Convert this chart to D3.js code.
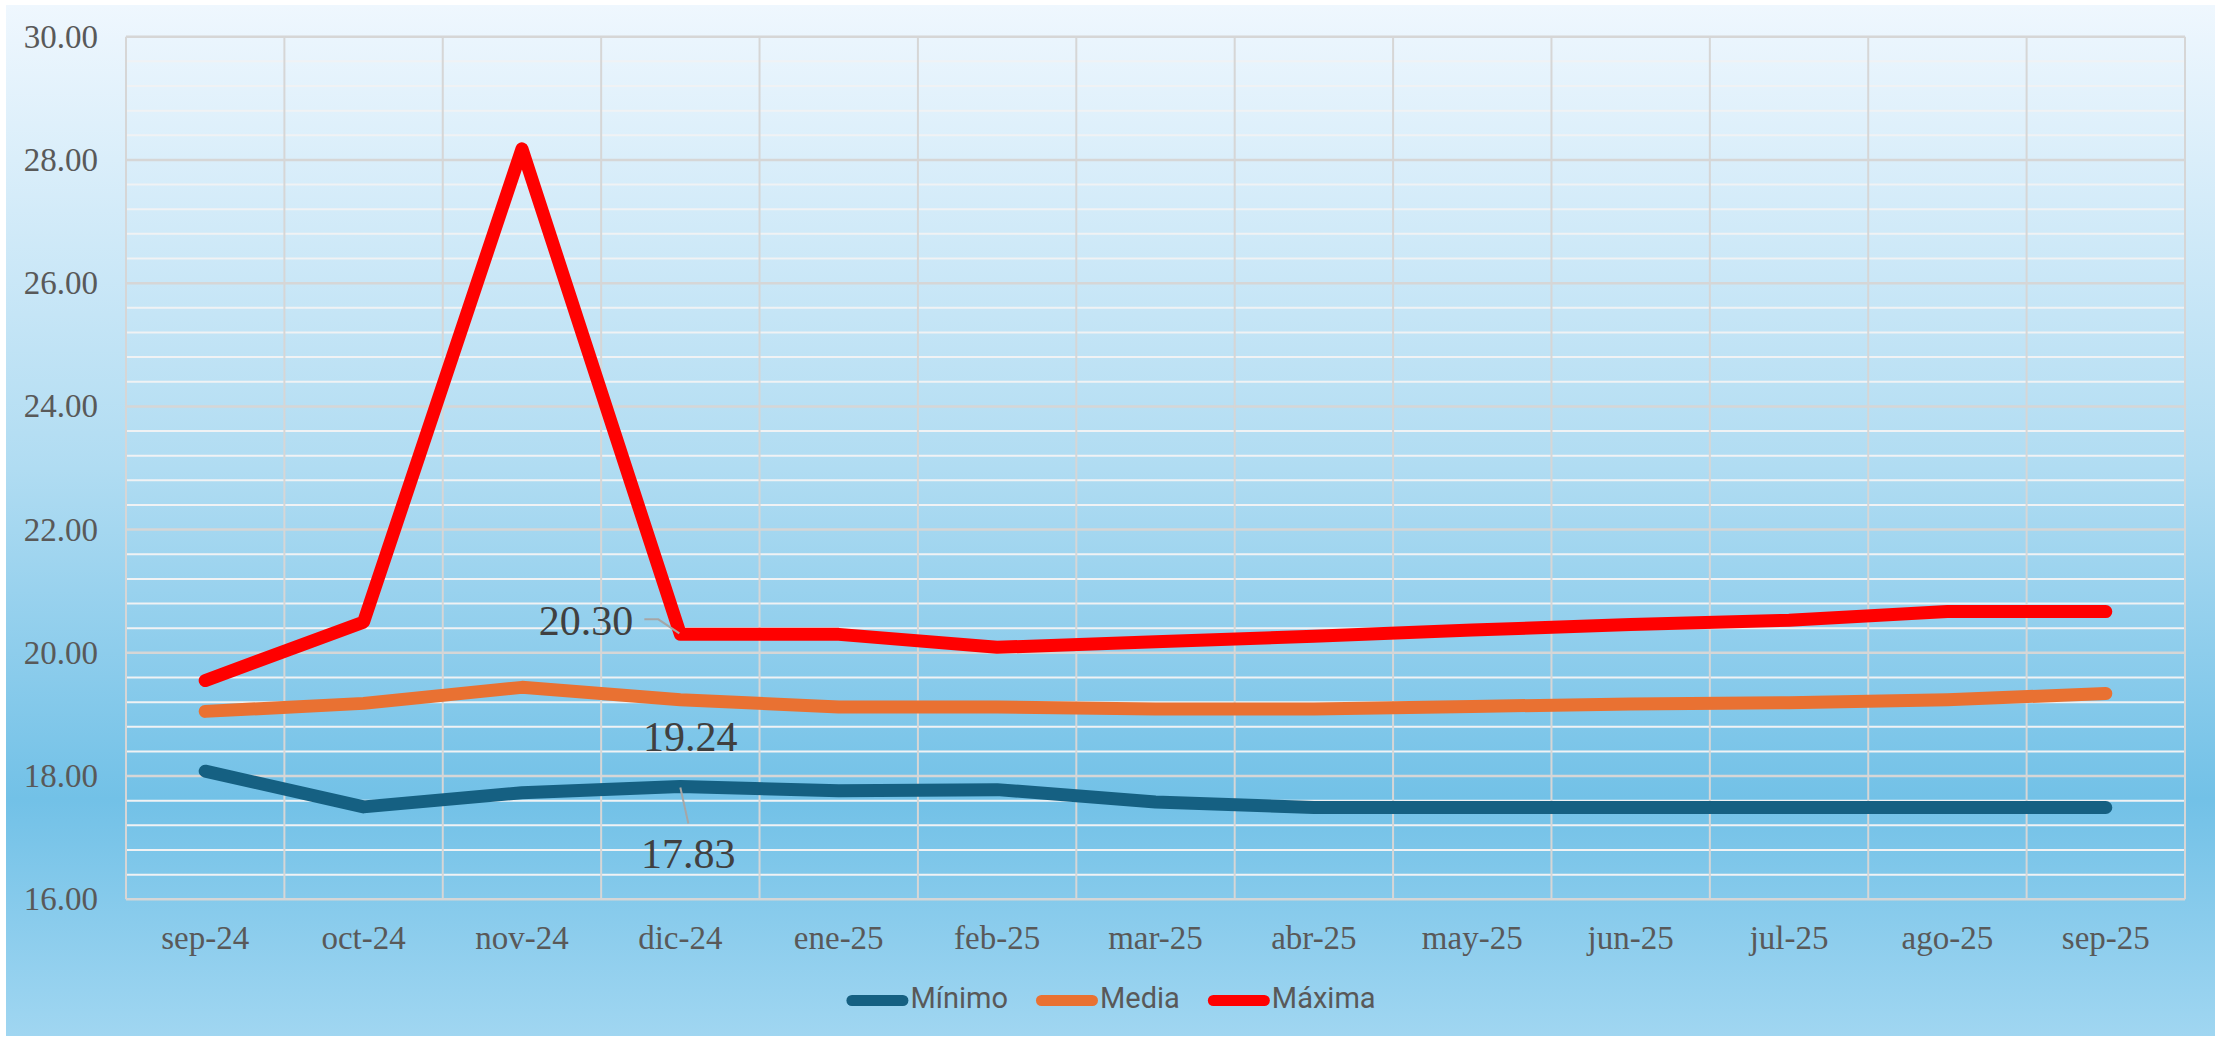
<!DOCTYPE html>
<html>
<head>
<meta charset="utf-8">
<script src="https://d3js.org/d3.v7.min.js"></script>
<style>
  html, body { margin: 0; padding: 0; background: #ffffff; }
  svg { display: block; }
</style>
</head>
<body>
<div class="chart"></div>
<script>
    'use strict';

    // Data
    var months = ['sep-24', 'oct-24', 'nov-24', 'dic-24', 'ene-25', 'feb-25', 'mar-25',
                  'abr-25', 'may-25', 'jun-25', 'jul-25', 'ago-25', 'sep-25'];
    var minimo = [18.08, 17.50, 17.73, 17.83, 17.76, 17.78, 17.58, 17.49, 17.49, 17.49, 17.49, 17.49, 17.49];
    var media  = [19.05, 19.18, 19.44, 19.24, 19.12, 19.12, 19.09, 19.09, 19.13, 19.17, 19.19, 19.24, 19.34];
    var maxima = [19.55, 20.50, 28.18, 20.30, 20.30, 20.09, 20.18, 20.27, 20.37, 20.46, 20.53, 20.67, 20.67];
    var seriesNames = ['Mínimo', 'Media', 'Máxima'];
    var seriesColors = ['#156082', '#e97132', '#ff0000'];
    var yTicks = [16, 18, 20, 22, 24, 26, 28, 30];
    var yMin = 16, yMax = 30, yMinorStep = 0.4;
    var labelMonth = 'dic-24';   // data labels sit on this month

    // Sizes
    var W = 2221, H = 1037;
    var plotLeft = 126, plotRight = 2185, plotTop = 36.7, plotBottom = 899.3;
    var serif = '"Liberation Serif", "Times New Roman", serif';
    var sans = 'Roboto, "Noto Sans", sans-serif';

    var svg = d3.select('.chart')
        .append('svg')
            .attr('width', W)
            .attr('height', H);

    // Background gradient
    var grad = svg.append('defs')
        .append('linearGradient')
            .attr('id', 'bg')
            .attr('x1', 0).attr('y1', 0)
            .attr('x2', 0).attr('y2', 1);
    grad.append('stop').attr('offset', '0%').attr('stop-color', '#eff7fe');
    grad.append('stop').attr('offset', '45%').attr('stop-color', '#b0dcf2');
    grad.append('stop').attr('offset', '77%').attr('stop-color', '#72c1e7');
    grad.append('stop').attr('offset', '100%').attr('stop-color', '#a0d6f1');

    svg.append('rect')
        .attr('x', 6)
        .attr('y', 5)
        .attr('width', 2209)
        .attr('height', 1031)
        .attr('fill', 'url(#bg)');

    // Scales
    var x = d3.scaleBand()
        .domain(months)
        .range([plotLeft, plotRight])
        .padding(0);
    var y = d3.scaleLinear()
        .domain([yMin, yMax])
        .range([plotBottom, plotTop]);
    var cx = function (m) { return x(m) + x.bandwidth() / 2; };

    // Minor gridlines
    var minorTicks = d3.range(yMin, yMax + 0.001, yMinorStep).filter(function (v) {
        return Math.abs(v / 2 - Math.round(v / 2)) > 0.01;
    });
    svg.append('g')
        .selectAll('line')
        .data(minorTicks)
        .enter()
        .append('line')
            .attr('x1', plotLeft)
            .attr('x2', plotRight)
            .attr('y1', function (d) { return y(d); })
            .attr('y2', function (d) { return y(d); })
            .attr('stroke', '#f0f2f4')
            .attr('stroke-width', 2);

    // Major gridlines
    svg.append('g')
        .selectAll('line')
        .data(yTicks)
        .enter()
        .append('line')
            .attr('x1', plotLeft)
            .attr('x2', plotRight)
            .attr('y1', function (d) { return y(d); })
            .attr('y2', function (d) { return y(d); })
            .attr('stroke', '#d6d6d6')
            .attr('stroke-width', 2.5);

    // Vertical gridlines at category edges
    svg.append('g')
        .selectAll('line')
        .data(months.concat(['end']))
        .enter()
        .append('line')
            .attr('x1', function (d) { return d === 'end' ? plotRight : x(d); })
            .attr('x2', function (d) { return d === 'end' ? plotRight : x(d); })
            .attr('y1', plotTop)
            .attr('y2', plotBottom)
            .attr('stroke', '#d6d6d6')
            .attr('stroke-width', 2);

    // Y axis labels
    var yAxis = svg.append('g')
        .attr('transform', 'translate(' + plotLeft + ',0)')
        .call(d3.axisLeft(y).tickValues(yTicks).tickSize(0).tickPadding(28)
            .tickFormat(function (d) { return d3.format('.2f')(d); }));
    yAxis.select('.domain').remove();
    yAxis.selectAll('text')
        .attr('font-family', serif)
        .attr('font-size', 33)
        .attr('fill', '#595959');

    // X axis labels
    var xAxis = svg.append('g')
        .attr('transform', 'translate(0,' + plotBottom + ')')
        .call(d3.axisBottom(x).tickSize(0));
    xAxis.select('.domain').remove();
    xAxis.selectAll('text')
        .attr('y', 50)
        .attr('dy', 0)
        .attr('font-family', serif)
        .attr('font-size', 33)
        .attr('fill', '#595959');

    // Lines
    var series = [minimo, media, maxima];
    var line = d3.line()
        .x(function (d, i) { return cx(months[i]); })
        .y(function (d) { return y(d); });

    svg.append('g')
        .selectAll('path')
        .data(series)
        .enter()
        .append('path')
            .attr('d', line)
            .attr('fill', 'none')
            .attr('stroke', function (d, i) { return seriesColors[i]; })
            .attr('stroke-width', 13)
            .attr('stroke-linecap', 'round')
            .attr('stroke-linejoin', 'round');

    // Data labels on dic-24
    var li = months.indexOf(labelMonth);
    var px = cx(labelMonth);
    var labelColor = '#404040';
    var leader = '#a6a6a6';

    // Máxima label with leader
    var pyMax = y(maxima[li]);
    svg.append('polyline')
        .attr('points', [[px - 36, pyMax - 15], [px - 22, pyMax - 15], [px - 1, pyMax - 1]].join(' '))
        .attr('fill', 'none')
        .attr('stroke', leader)
        .attr('stroke-width', 2);
    svg.append('text')
        .text(d3.format('.2f')(maxima[li]))
        .attr('x', px - 47)
        .attr('y', pyMax + 1)
        .attr('text-anchor', 'end')
        .attr('font-family', serif)
        .attr('font-size', 42)
        .attr('fill', labelColor);

    // Media label
    var pyMed = y(media[li]);
    svg.append('text')
        .text(d3.format('.2f')(media[li]))
        .attr('x', px + 10)
        .attr('y', pyMed + 51)
        .attr('text-anchor', 'middle')
        .attr('font-family', serif)
        .attr('font-size', 42)
        .attr('fill', labelColor);

    // Mínimo label with leader
    var pyMin = y(minimo[li]);
    svg.append('line')
        .attr('x1', px)
        .attr('y1', pyMin + 1)
        .attr('x2', px + 8)
        .attr('y2', pyMin + 37)
        .attr('stroke', leader)
        .attr('stroke-width', 2);
    svg.append('text')
        .text(d3.format('.2f')(minimo[li]))
        .attr('x', px + 8)
        .attr('y', pyMin + 81)
        .attr('text-anchor', 'middle')
        .attr('font-family', serif)
        .attr('font-size', 42)
        .attr('fill', labelColor);

    // Legend
    var swatchW = 62, swatchGap = 2, itemGap = 28, legendY = 1000.5, legendCx = 1111;
    var legend = svg.append('g');
    var items = legend.selectAll('g')
        .data(seriesNames)
        .enter()
        .append('g');
    items.append('line')
        .attr('x1', 5.5)
        .attr('x2', swatchW - 5.5)
        .attr('y1', legendY)
        .attr('y2', legendY)
        .attr('stroke', function (d, i) { return seriesColors[i]; })
        .attr('stroke-width', 11)
        .attr('stroke-linecap', 'round');
    items.append('text')
        .text(function (d) { return d; })
        .attr('x', swatchW + swatchGap)
        .attr('y', legendY + 7)
        .attr('font-family', sans)
        .attr('font-size', 29)
        .attr('fill', '#595959');

    var widths = [];
    items.each(function () {
        widths.push(swatchW + swatchGap + d3.select(this).select('text').node().getComputedTextLength());
    });
    var total = d3.sum(widths) + itemGap * (widths.length - 1);
    var offset = legendCx - total / 2;
    items.attr('transform', function (d, i) {
        var xi = offset;
        offset += widths[i] + itemGap;
        return 'translate(' + xi + ',0)';
    });
</script>
</body>
</html>
